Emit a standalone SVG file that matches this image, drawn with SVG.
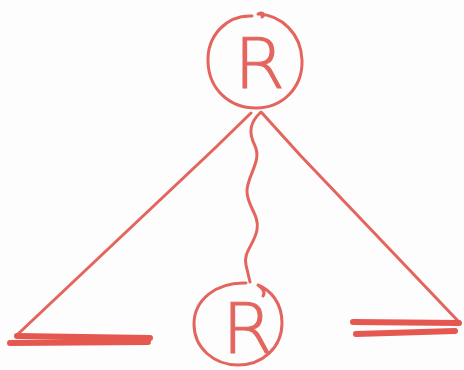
<svg xmlns="http://www.w3.org/2000/svg" width="464" height="370" viewBox="0 0 464 370">
<style>
.pen{fill:none;stroke:#e3655d;stroke-width:3;stroke-linecap:round;stroke-linejoin:round}
.thick{fill:none;stroke:#e5584f;stroke-width:6;stroke-linecap:round}
.lbl{font-family:"DejaVu Sans","Liberation Sans",sans-serif;font-weight:200;font-size:70px;fill:#e3655d;stroke:#e3655d;stroke-width:1}
</style>
<rect width="464" height="370" fill="#fdfdfd"/>
<g id="connectors">
<path class="pen" d="M251,113 L214,149 L18,334"/>
<path class="pen" d="M262,113 L300,155 L459,322"/>
<path class="pen" d="M261,112 C250,122 248,132 255,146 C262,160 248,175 247,190 C246,205 260,215 257,230 C254,245 243,252 246,265 L250,282"/>
<path class="thick" d="M17,336 L150,338 M10,343 L148,342"/>
<path class="thick" d="M459,323 L353,322 M455,331 L356,334"/>
</g>
<g id="node-top">
<path class="pen" d="M252,16 C226,15 207,36 208,62 C209,89 229,108 256,108 C282,108 303,88 302,60 C301,34 282,15 258,14 C262,12 266,14 262,17"/>
<text class="lbl" x="234" y="88" transform="translate(234,88) scale(1.05,1) translate(-234,-88)">R</text>
</g>
<g id="node-bottom">
<path class="pen" d="M246,283 C216,282 194,300 194,324 C194,348 214,365 238,365 C262,365 282,348 282,323 C282,302 270,290 258,285 C262,288 266,292 263,296"/>
<text class="lbl" x="222" y="353" transform="translate(222,353) scale(1.05,1) translate(-222,-353)">R</text>
</g>
</svg>
